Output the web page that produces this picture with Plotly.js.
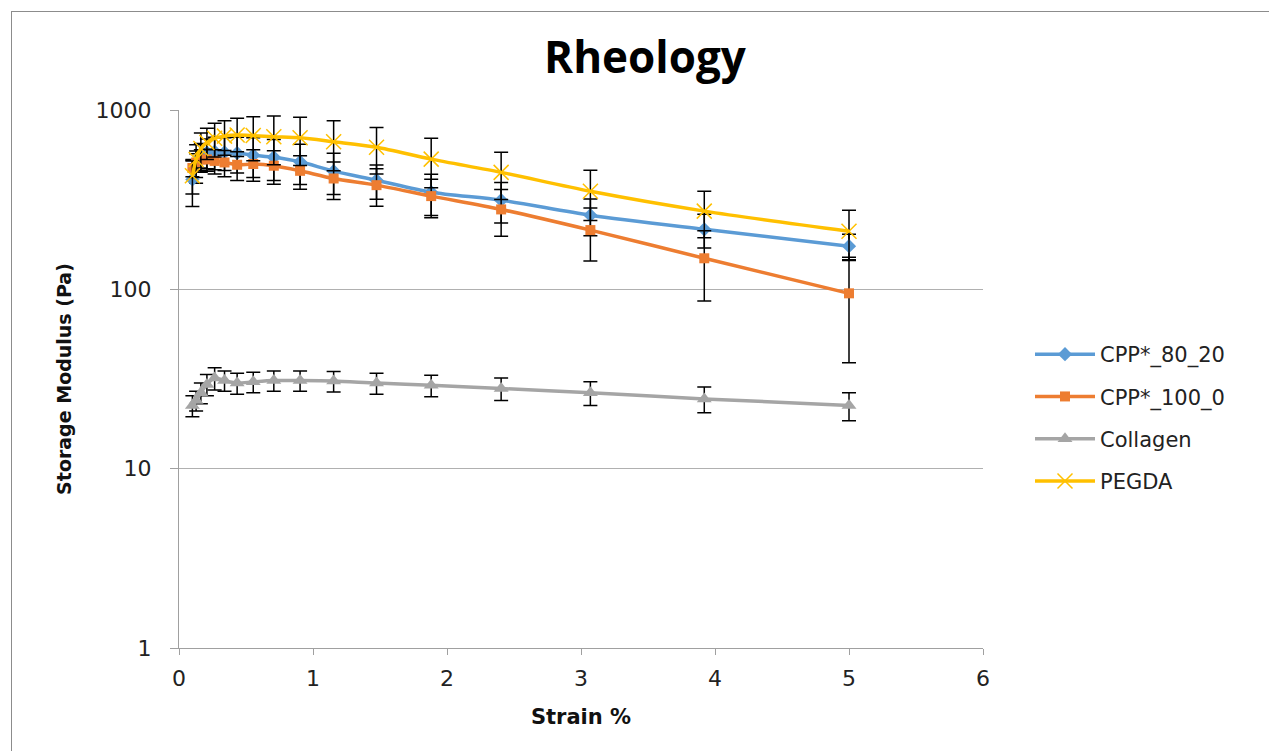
<!DOCTYPE html>
<html>
<head>
<meta charset="utf-8">
<script src="https://cdn.plot.ly/plotly-3.0.1.min.js"></script>
<style>
  html, body { margin:0; padding:0; background:#fff; overflow:hidden; }
  #frame { position:absolute; left:11px; top:11px; width:1300px; height:800px; border-left:1px solid #8c8c8c; border-top:1px solid #8c8c8c; }
  #chart { position:absolute; left:0; top:0; width:1269px; height:751px; }
</style>
</head>
<body>
<div id="frame"></div>
<div id="chart"></div>
<script>
// Strain % (x values)
const strain = [0.1, 0.1277, 0.1631, 0.2083, 0.266, 0.3397, 0.4339, 0.5541, 0.7076, 0.9036, 1.154, 1.474, 1.882, 2.404, 3.07, 3.92, 5.0];

// Storage modulus (Pa)
const cpp80_20 = [410, 490, 550, 580, 585, 580, 575, 560, 545, 514, 456, 406, 348, 314, 259, 216, 174];
const cpp80_20_err = [120, 100, 100, 110, 120, 120, 130, 140, 140, 130, 118, 88, 90, 80, 60, 46, 29];

const cpp100_0 = [475, 510, 530, 530, 520, 510, 495, 500, 489, 458, 415, 381, 331, 279, 214, 149, 95];
const cpp100_0_err = [50, 60, 70, 75, 80, 85, 90, 100, 104, 97, 98, 90, 80, 81, 70, 63, 56];

const collagen = [22.5, 24, 26.5, 29.5, 32, 31, 30, 30.5, 31, 31, 30.8, 30, 29.2, 28, 26.5, 24.5, 22.5];
const collagen_err = [3, 3, 3.5, 4, 4.5, 4, 4, 4, 4, 4, 4, 4, 4, 4, 4, 4, 4];

const pegda = [430, 530, 610, 660, 695, 715, 725, 720, 710, 700, 665, 620, 532, 449, 352, 273, 211];
const pegda_err = [90, 110, 135, 131, 148, 156, 174, 198, 215, 210, 206, 180, 163, 132, 110, 79, 65];

const names = ['CPP*_80_20', 'CPP*_100_0', 'Collagen', 'PEGDA'];
const colors = ['#5B9BD5', '#ED7D31', '#A5A5A5', '#FFC000'];

const yTickVals = [1, 10, 100, 1000];
const yTickText = ['1', '10', '100', '1000'];
const xTickVals = [0, 1, 2, 3, 4, 5, 6];

function mk(i, y, err, symbol, size) {
  const m = { symbol: symbol, size: size, color: colors[i] };
  if (symbol === 'x-thin-open') { m.line = { color: colors[i], width: 1.5 }; }
  return {
    x: strain, y: y, name: names[i], type: 'scatter', mode: 'lines+markers',
    legendgroup: 'g' + i,
    line: { color: colors[i], width: 3.5, shape: 'spline', smoothing: 0.8 },
    marker: m,
    error_y: { type: 'data', array: err, visible: true, color: '#000', thickness: 1.5, width: 7 }
  };
}

const data = [
  mk(0, cpp80_20, cpp80_20_err, 'diamond', 11),
  mk(1, cpp100_0, cpp100_0_err, 'square', 10),
  mk(2, collagen, collagen_err, 'triangle-up', 13),
  mk(3, pegda, pegda_err, 'x-thin-open', 15)
];

const layout = {
  width: 1269, height: 751,
  paper_bgcolor: 'rgba(0,0,0,0)', plot_bgcolor: '#fff',
  margin: { l: 179, r: 286, t: 110, b: 103 },
  font: { family: 'DejaVu Sans', color: '#222' },
  title: {
    text: '<b>Rheology</b>', x: 645 / 1269, xanchor: 'center', xref: 'container',
    y: 1 - 58 / 751, yanchor: 'middle', yref: 'container',
    font: { family: 'Open Sans', size: 44, color: '#000' }
  },
  xaxis: {
    range: [0, 6], tickvals: xTickVals, ticktext: xTickVals.map(String),
    showgrid: false, zeroline: false, showline: true, linecolor: '#a0a0a0', linewidth: 1,
    ticks: 'outside', ticklen: 6, tickcolor: '#a0a0a0', ticklabelstandoff: 5,
    tickfont: { size: 22, color: '#222' },
    title: { text: '<b>Strain %</b>', font: { size: 21, color: '#111' }, standoff: 18 }
  },
  yaxis: {
    type: 'log', range: [0, 3], tickvals: yTickVals, ticktext: yTickText,
    showgrid: true, gridcolor: '#b0b0b0', gridwidth: 1, zeroline: false,
    showline: true, linecolor: '#a0a0a0', linewidth: 1,
    ticks: 'outside', ticklen: 8, tickcolor: '#a0a0a0', ticklabelstandoff: 14,
    tickfont: { size: 22, color: '#222' },
    title: { text: '<b>Storage Modulus (Pa)</b>', font: { size: 19, color: '#111' }, standoff: 18 }
  },
  showlegend: true,
  legend: {
    xref: 'container', yref: 'container', x: 1030 / 1269, xanchor: 'left',
    y: 1 - 334 / 751, yanchor: 'top',
    font: { size: 21, color: '#222' },
    traceorder: 'grouped', tracegroupgap: 12, itemwidth: 60,
    bgcolor: 'rgba(0,0,0,0)'
  }
};

Plotly.newPlot('chart', data, layout, { staticPlot: true, displayModeBar: false });
</script>
</body>
</html>
